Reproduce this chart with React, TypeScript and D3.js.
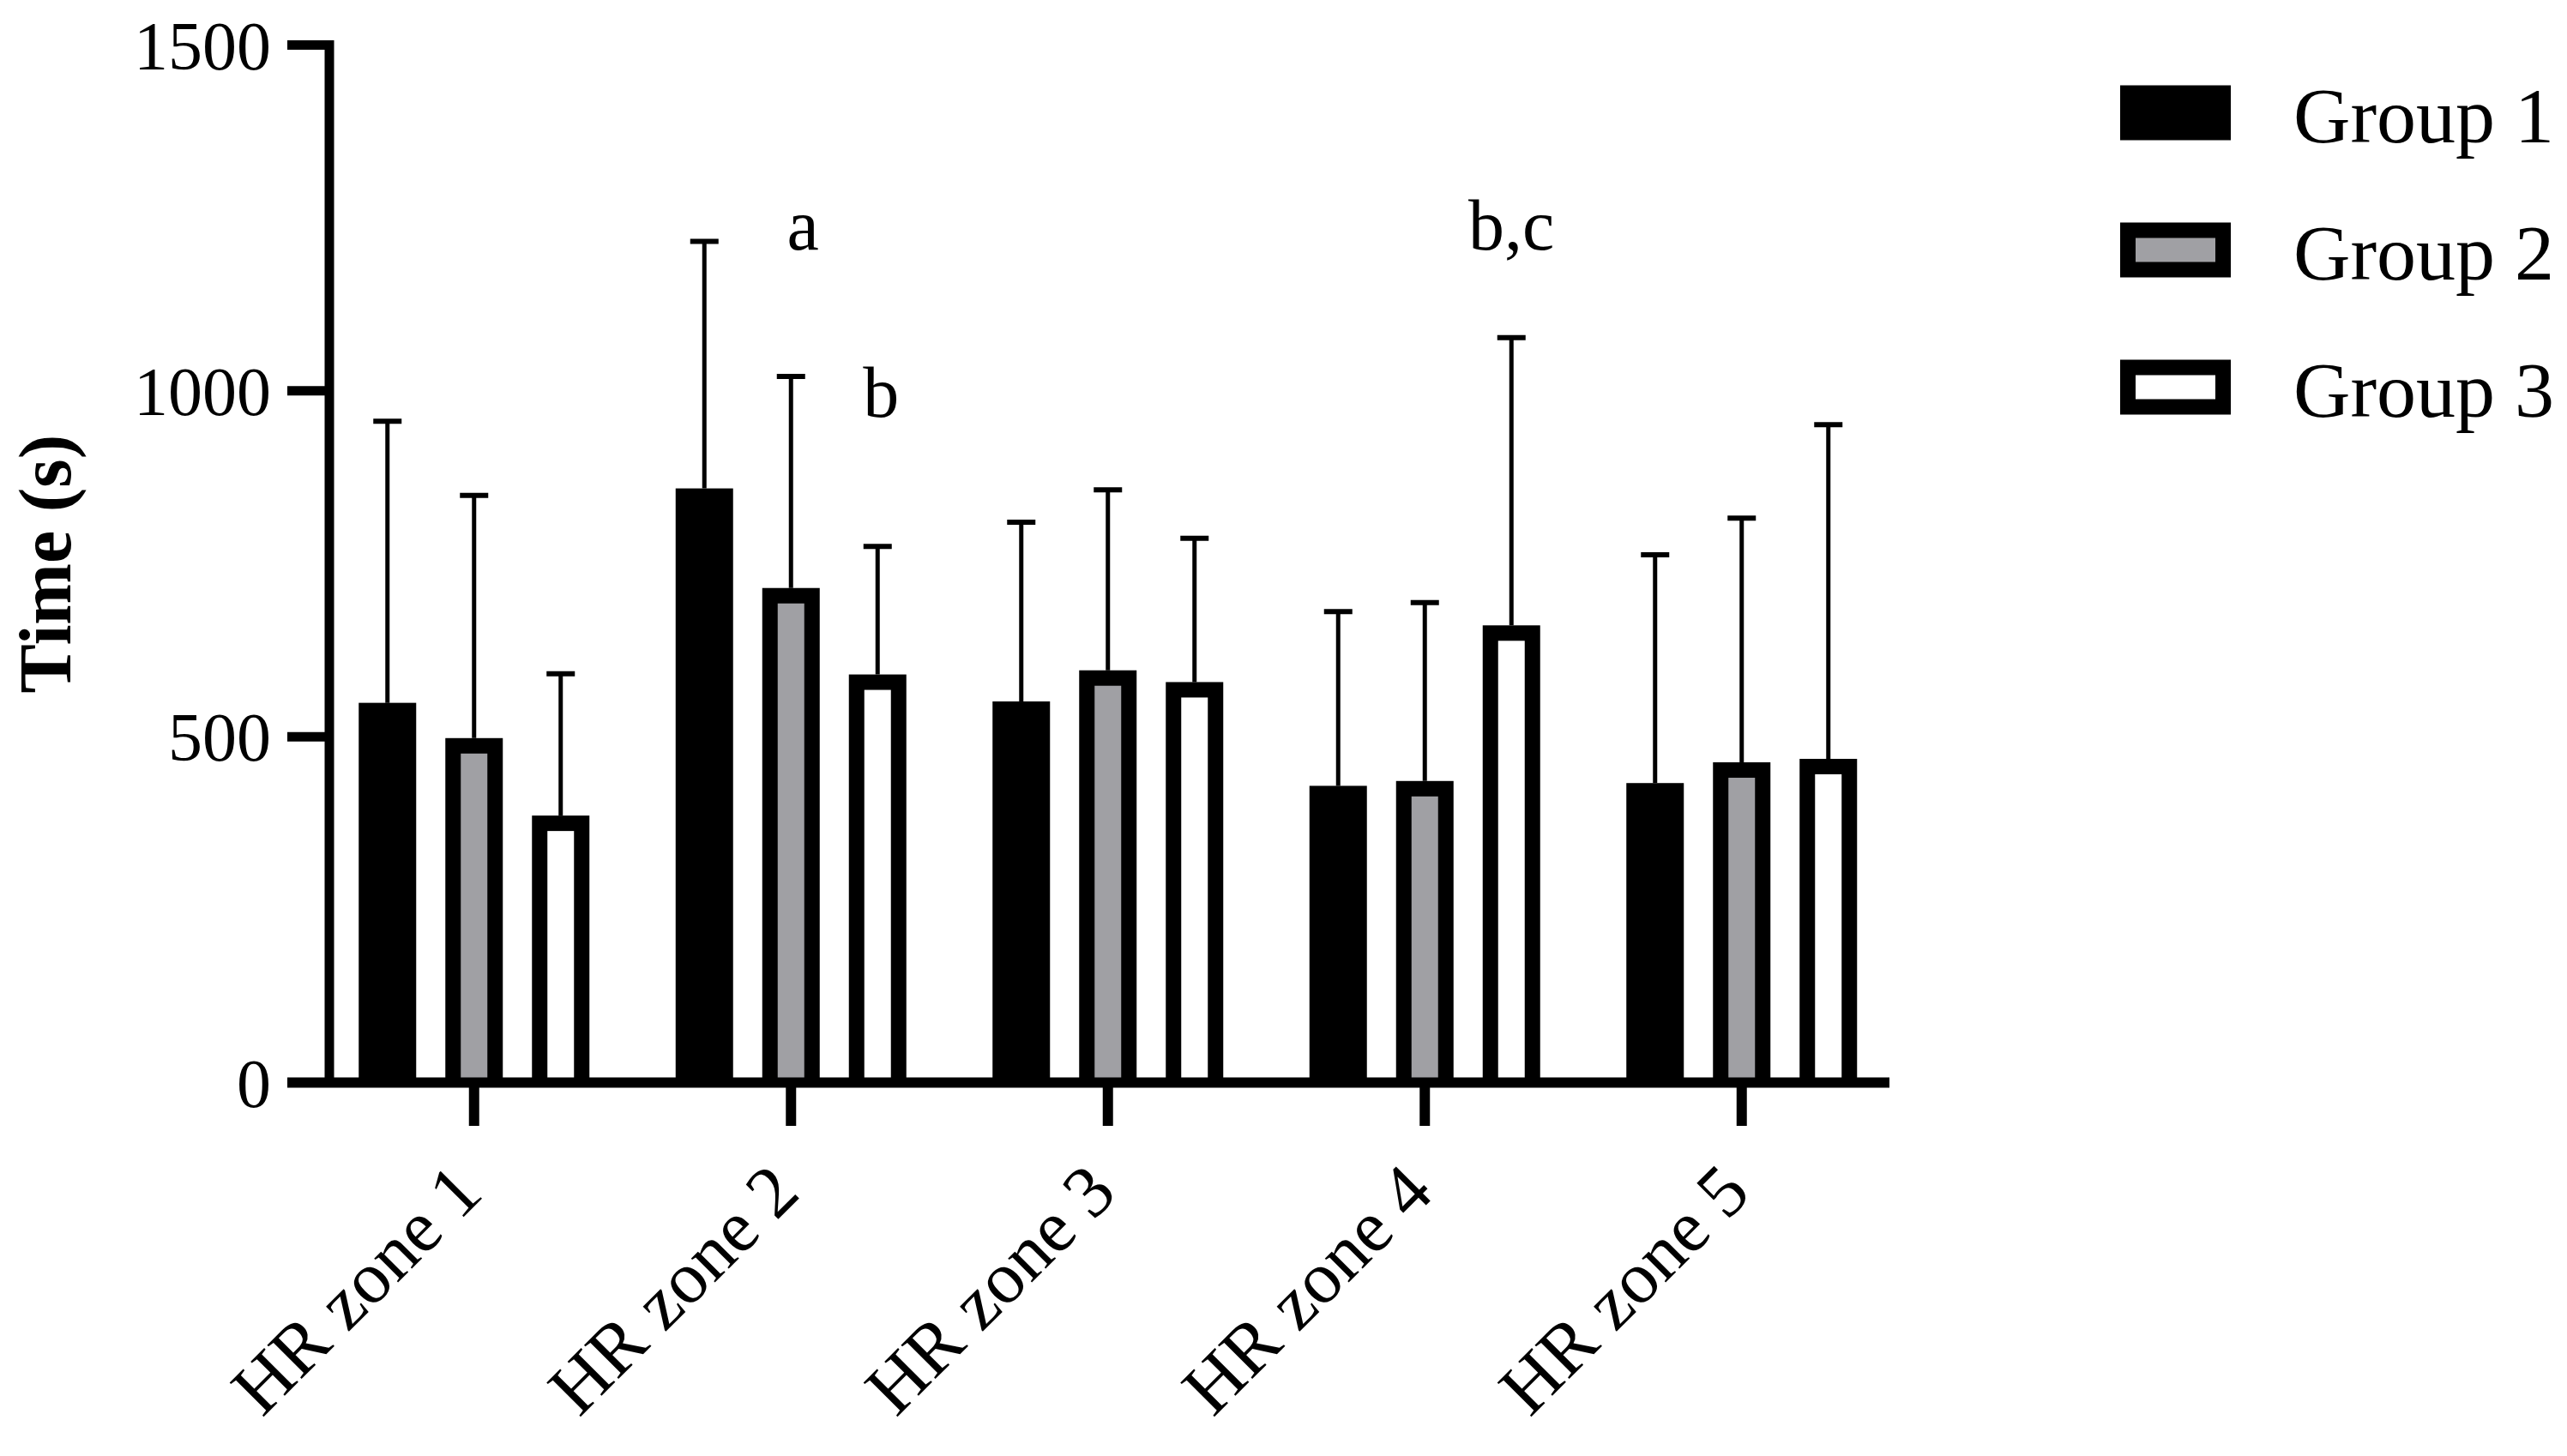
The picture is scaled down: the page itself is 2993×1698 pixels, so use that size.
import React, { useEffect, useRef, RefObject } from "react";
import * as d3 from "d3";

// data (seconds)
const zones = ["HR zone 1", "HR zone 2", "HR zone 3", "HR zone 4", "HR zone 5"];
const groups = ["Group 1", "Group 2", "Group 3"];
const group1Mean = [549, 859, 551, 429, 433];
const group2Mean = [498, 715, 596, 436, 463];
const group3Mean = [386, 590, 579, 661, 468];
const group1Sd = [407, 357, 259, 252, 330];
const group2Sd = [351, 306, 261, 258, 353];
const group3Sd = [205, 185, 208, 416, 483];
const yTicks = [0, 500, 1000, 1500];
const annotations = [
  { zone: "HR zone 2", group: "Group 2", value: 1204, label: "a", dx: 14 },
  { zone: "HR zone 2", group: "Group 3", value: 963, label: "b", dx: 4 },
  { zone: "HR zone 4", group: "Group 3", value: 1204, label: "b,c", dx: 0 },
];

const W = 2993,
  H = 1698;
const FONT = "'Liberation Serif', 'Times New Roman', serif";

export default function App(): React.ReactElement {
  const svgRef: RefObject<SVGSVGElement> = useRef(null);

  useEffect(() => {
    const svg = d3.select(svgRef.current);
    svg.selectChildren().remove();

    const means = [group1Mean, group2Mean, group3Mean];
    const sds = [group1Sd, group2Sd, group3Sd];
    const fills = ["#000000", "#a0a0a4", "#ffffff"];

    const y = d3.scaleLinear().domain([0, 1500]).range([1262.5, 52.5]);
    const x0 = d3.scaleBand().domain(zones).range([368, 2215.5]);
    const x1 = d3.scalePoint().domain(groups).range([-101, 101]);

    const barW = 67,
      border = 18,
      axisW = 11,
      capW = 33;

    const rows = zones.flatMap((z, zi) =>
      groups.map((g, gi) => ({
        zone: z,
        group: g,
        gi,
        mean: means[gi][zi],
        sd: sds[gi][zi],
        cx: (x0(z) as number) + x0.bandwidth() / 2 + (x1(g) as number),
      }))
    );

    // error bars (upper only)
    const err = svg.append("g").attr("class", "errors");
    err
      .selectAll("line.stem")
      .data(rows)
      .enter()
      .append("line")
      .attr("x1", (d) => d.cx)
      .attr("x2", (d) => d.cx)
      .attr("y1", (d) => y(d.mean))
      .attr("y2", (d) => y(d.mean + d.sd))
      .attr("stroke", "#000")
      .attr("stroke-width", 5);
    err
      .selectAll("line.cap")
      .data(rows)
      .enter()
      .append("line")
      .attr("x1", (d) => d.cx - capW / 2)
      .attr("x2", (d) => d.cx + capW / 2)
      .attr("y1", (d) => y(d.mean + d.sd))
      .attr("y2", (d) => y(d.mean + d.sd))
      .attr("stroke", "#000")
      .attr("stroke-width", 6);

    // bars: black outer box, coloured inner box
    const bars = svg.append("g").attr("class", "bars");
    bars
      .selectAll("rect.outer")
      .data(rows)
      .enter()
      .append("rect")
      .attr("x", (d) => d.cx - barW / 2)
      .attr("y", (d) => y(d.mean))
      .attr("width", barW)
      .attr("height", (d) => y(0) - y(d.mean))
      .attr("fill", "#000");
    bars
      .selectAll("rect.inner")
      .data(rows.filter((d) => d.gi > 0))
      .enter()
      .append("rect")
      .attr("x", (d) => d.cx - barW / 2 + border)
      .attr("y", (d) => y(d.mean) + border)
      .attr("width", barW - 2 * border)
      .attr("height", (d) => y(0) - y(d.mean) - border)
      .attr("fill", (d) => fills[d.gi]);

    // y axis
    const yAxis = svg.append("g").attr("class", "y-axis");
    yAxis
      .append("line")
      .attr("x1", 384)
      .attr("x2", 384)
      .attr("y1", y(1500) - axisW / 2)
      .attr("y2", y(0))
      .attr("stroke", "#000")
      .attr("stroke-width", axisW);
    yAxis
      .selectAll("line.tick")
      .data(yTicks)
      .enter()
      .append("line")
      .attr("x1", 335)
      .attr("x2", 384)
      .attr("y1", (d) => y(d))
      .attr("y2", (d) => y(d))
      .attr("stroke", "#000")
      .attr("stroke-width", axisW);
    yAxis
      .selectAll("text")
      .data(yTicks)
      .enter()
      .append("text")
      .attr("x", 316)
      .attr("y", (d) => y(d))
      .attr("dy", "0.35em")
      .attr("text-anchor", "end")
      .attr("font-family", FONT)
      .attr("font-size", 80)
      .text((d) => String(d));

    svg
      .append("text")
      .attr("transform", `translate(82, ${(y(0) + y(1500)) / 2}) rotate(-90)`)
      .attr("text-anchor", "middle")
      .attr("font-family", FONT)
      .attr("font-weight", "bold")
      .attr("font-size", 86)
      .text("Time (s)");

    // x axis
    const xAxis = svg.append("g").attr("class", "x-axis");
    xAxis
      .append("line")
      .attr("x1", 335)
      .attr("x2", 2203)
      .attr("y1", y(0))
      .attr("y2", y(0))
      .attr("stroke", "#000")
      .attr("stroke-width", 12);
    xAxis
      .selectAll("line.tick")
      .data(zones)
      .enter()
      .append("line")
      .attr("x1", (d) => (x0(d) as number) + x0.bandwidth() / 2)
      .attr("x2", (d) => (x0(d) as number) + x0.bandwidth() / 2)
      .attr("y1", y(0))
      .attr("y2", 1313)
      .attr("stroke", "#000")
      .attr("stroke-width", 12);
    xAxis
      .selectAll("text")
      .data(zones)
      .enter()
      .append("text")
      .attr(
        "transform",
        (d) =>
          `translate(${(x0(d) as number) + x0.bandwidth() / 2 + 13}, 1394) rotate(-45)`
      )
      .attr("text-anchor", "end")
      .attr("font-family", FONT)
      .attr("font-size", 86)
      .text((d) => d);

    // significance letters
    svg
      .append("g")
      .attr("class", "annotations")
      .selectAll("text")
      .data(annotations)
      .enter()
      .append("text")
      .attr(
        "x",
        (d) =>
          (x0(d.zone) as number) + x0.bandwidth() / 2 + (x1(d.group) as number) + d.dx
      )
      .attr("y", (d) => y(d.value))
      .attr("text-anchor", "middle")
      .attr("font-family", FONT)
      .attr("font-size", 84)
      .text((d) => d.label);

    // legend
    const legend = svg
      .append("g")
      .attr("class", "legend")
      .selectAll("g")
      .data(groups)
      .enter()
      .append("g")
      .attr("transform", (d, i) => `translate(2472, ${99.5 + i * 160})`);
    legend
      .append("rect")
      .attr("width", 129)
      .attr("height", 64)
      .attr("fill", "#000");
    legend
      .filter((d, i) => i > 0)
      .append("rect")
      .attr("x", border)
      .attr("y", border)
      .attr("width", 129 - 2 * border)
      .attr("height", 64 - 2 * border)
      .attr("fill", (d, i) => fills[i + 1]);
    legend
      .append("text")
      .attr("x", 202)
      .attr("y", 66)
      .attr("font-family", FONT)
      .attr("font-size", 92)
      .text((d) => d);
  }, []);

  return (
    <div style={{ position: "absolute", left: 0, top: 0, background: "#fff" }}>
      <svg
        xmlns="http://www.w3.org/2000/svg"
        ref={svgRef}
        width={W}
        height={H}
        style={{ display: "block" }}
      />
    </div>
  );
}
